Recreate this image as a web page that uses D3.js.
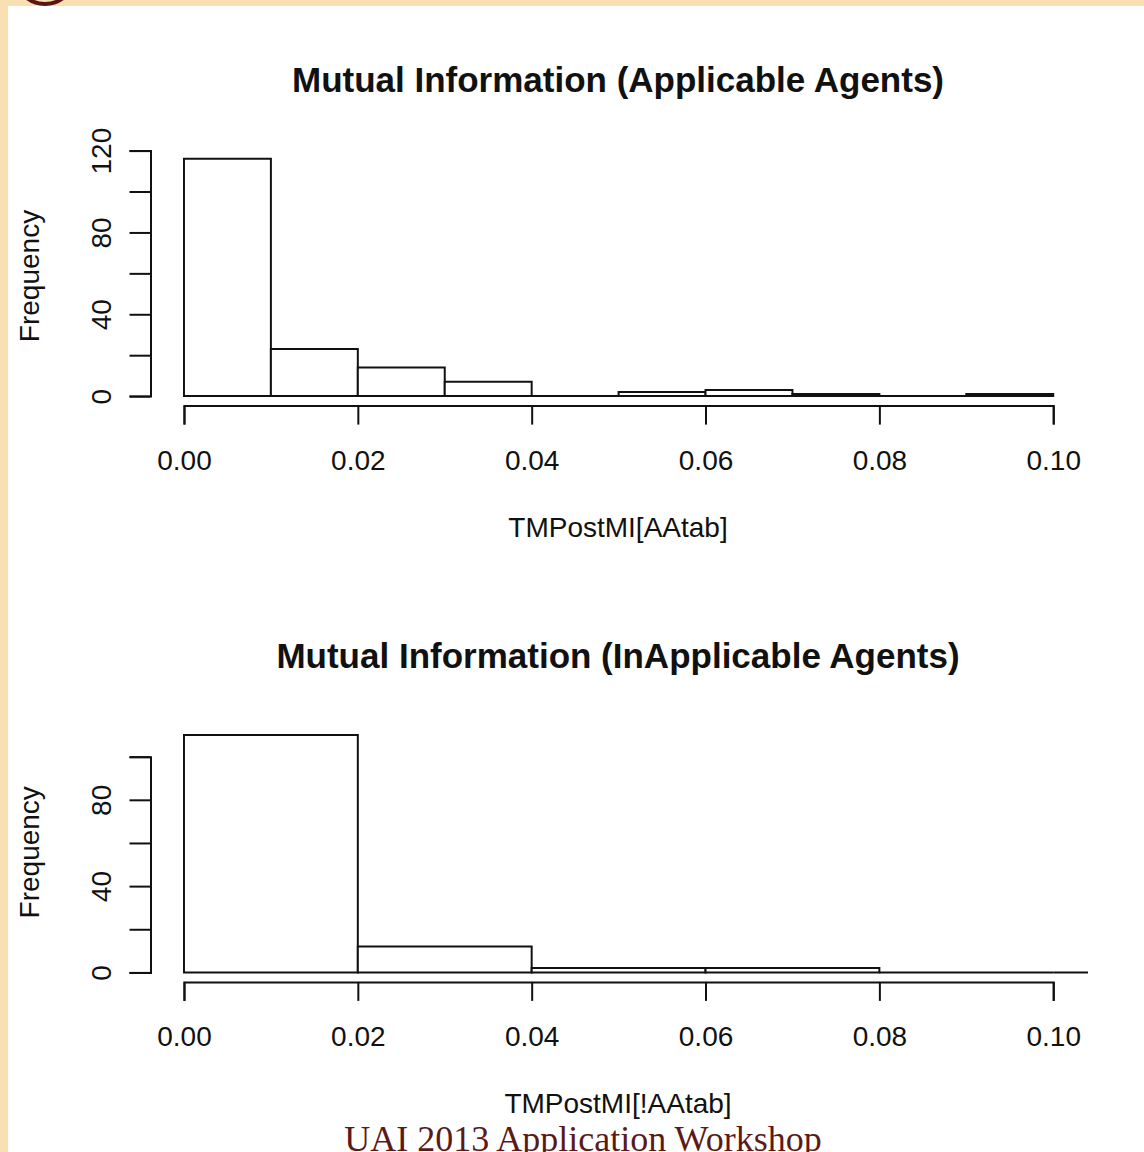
<!DOCTYPE html>
<html>
<head>
<meta charset="utf-8">
<script src="https://cdn.jsdelivr.net/npm/d3@7"></script>
<style>
  html, body { margin: 0; padding: 0; background: #f8e0b2; }
  svg { display: block; }
  text { font-family: "Liberation Sans", Arial, sans-serif; fill: #111; }
</style>
</head>
<body>
<div id="vis"></div>
<script>

// top histogram: bin edges and counts
var topBreaks = [0, 0.01, 0.02, 0.03, 0.04, 0.05, 0.06, 0.07, 0.08, 0.09, 0.10];
var topCounts = [116, 23, 14, 7, 0, 2, 3, 1, 0, 1];

// bottom histogram (last bin falls outside the x range and is clipped)
var bottomBreaks = [0, 0.02, 0.04, 0.06, 0.08, 0.10, 0.12];
var bottomCounts = [110, 12, 2, 2, 0, 0];

var xTicks = [0, 0.02, 0.04, 0.06, 0.08, 0.10];
var topYTicks = [0, 20, 40, 60, 80, 100, 120];
var topYLabels = [0, 40, 80, 120];
var bottomYTicks = [0, 20, 40, 60, 80, 100];
var bottomYLabels = [0, 40, 80];

var titles = ['Mutual Information (Applicable Agents)', 'Mutual Information (InApplicable Agents)'];
var xLabels = ['TMPostMI[AAtab]', 'TMPostMI[!AAtab]'];
var yLabel = 'Frequency';
var footer = 'UAI 2013 Application Workshop';

var width = 1144;
var height = 1152;

var svg = d3.select('#vis')
  .append('svg')
  .attr('width', width)
  .attr('height', height);

// slide background: beige frame, white sheet
svg.append('rect')
  .attr('x', 0).attr('y', 0)
  .attr('width', width).attr('height', height)
  .attr('fill', '#f8e0b2');

svg.append('rect')
  .attr('x', 8).attr('y', 6)
  .attr('width', width - 8).attr('height', height - 6)
  .attr('fill', '#fff');

// bit of the slide logo peeking in at the top
svg.append('circle')
  .attr('cx', 45).attr('cy', -26)
  .attr('r', 30)
  .attr('fill', 'none')
  .attr('stroke', '#5c1515')
  .attr('stroke-width', 4);

var plotLeft = 149.2;
var plotRight = 1088;

function drawHist(offsetY, breaks, counts, maxCount, yTicks, yLabels, title, xLabel, idx) {
  var regionTop = 149.3 + offsetY;
  var regionBottom = 405.6 + offsetY;

  var x = d3.scaleLinear()
    .domain([-0.004, 0.104])
    .range([plotLeft, plotRight]);

  var pad = maxCount * 0.04;
  var y = d3.scaleLinear()
    .domain([-pad, maxCount + pad])
    .range([regionBottom, regionTop]);

  var g = svg.append('g');

  var clipId = 'clip' + idx;
  svg.append('clipPath').attr('id', clipId)
    .append('rect')
    .attr('x', plotLeft).attr('y', regionTop - 2)
    .attr('width', plotRight - plotLeft)
    .attr('height', regionBottom - regionTop + 4);

  var bins = counts.map(function (c, i) {
    return { x0: breaks[i], x1: breaks[i + 1], n: c };
  });

  // bars as paths so empty bins still show as a line at zero
  g.append('g')
    .attr('clip-path', 'url(#' + clipId + ')')
    .selectAll('path')
    .data(bins)
    .enter().append('path')
    .attr('d', function (d) {
      var p = d3.path();
      p.moveTo(x(d.x0), y(0));
      p.lineTo(x(d.x0), y(d.n));
      p.lineTo(x(d.x1), y(d.n));
      p.lineTo(x(d.x1), y(0));
      p.closePath();
      return p.toString();
    })
    .attr('fill', '#fff')
    .attr('stroke', '#111')
    .attr('stroke-width', 2);

  // x axis: line only between first and last tick, like R
  var xAxisScale = d3.scaleLinear()
    .domain([xTicks[0], xTicks[xTicks.length - 1]])
    .range([x(xTicks[0]), x(xTicks[xTicks.length - 1])]);

  var xAxis = g.append('g')
    .attr('transform', 'translate(0,' + regionBottom + ')')
    .call(d3.axisBottom(xAxisScale)
      .tickValues(xTicks)
      .tickSize(19)
      .tickFormat(d3.format('.2f')));

  xAxis.select('.domain').attr('stroke', '#111').attr('stroke-width', 2);
  xAxis.selectAll('.tick line').attr('stroke', '#111').attr('stroke-width', 2);
  xAxis.selectAll('.tick text')
    .attr('y', 64.5)
    .attr('dy', 0)
    .style('font-size', '28px')
    .style('font-family', '"Liberation Sans", Arial, sans-serif')
    .attr('fill', '#111');

  // y axis with rotated labels, only some ticks labelled
  var yTop = yTicks[yTicks.length - 1];
  var yAxisScale = d3.scaleLinear()
    .domain([0, yTop])
    .range([y(0), y(yTop)]);

  var yAxis = g.append('g')
    .attr('transform', 'translate(150.5,0)')
    .call(d3.axisLeft(yAxisScale)
      .tickValues(yTicks)
      .tickSize(21)
      .tickFormat(function (d) { return yLabels.indexOf(d) >= 0 ? d : ''; }));

  yAxis.select('.domain').attr('stroke', '#111').attr('stroke-width', 2);
  yAxis.selectAll('.tick line').attr('stroke', '#111').attr('stroke-width', 2);
  yAxis.selectAll('.tick text')
    .attr('transform', 'rotate(-90)')
    .attr('x', 0)
    .attr('y', -40)
    .attr('dy', 0)
    .attr('text-anchor', 'middle')
    .style('font-size', '28px')
    .style('font-family', '"Liberation Sans", Arial, sans-serif')
    .attr('fill', '#111');

  // titles and labels
  g.append('text')
    .attr('x', 618)
    .attr('y', 92 + offsetY)
    .attr('text-anchor', 'middle')
    .style('font-size', '35px')
    .style('font-weight', 'bold')
    .text(title);

  g.append('text')
    .attr('x', 618)
    .attr('y', 537 + offsetY)
    .attr('text-anchor', 'middle')
    .style('font-size', '28px')
    .text(xLabel);

  g.append('text')
    .attr('transform', 'translate(39,' + (276 + offsetY) + ') rotate(-90)')
    .attr('text-anchor', 'middle')
    .style('font-size', '28px')
    .text(yLabel);
}

drawHist(0, topBreaks, topCounts, d3.max(topCounts), topYTicks, topYLabels, titles[0], xLabels[0], 0);
drawHist(576.3, bottomBreaks, bottomCounts, d3.max(bottomCounts), bottomYTicks, bottomYLabels, titles[1], xLabels[1], 1);

svg.append('text')
  .attr('x', 583)
  .attr('y', 1151)
  .attr('text-anchor', 'middle')
  .style('font-family', '"Liberation Serif", "DejaVu Serif", serif')
  .style('font-size', '36px')
  .style('fill', '#5b1a18')
  .text(footer);

</script>
</body>
</html>
